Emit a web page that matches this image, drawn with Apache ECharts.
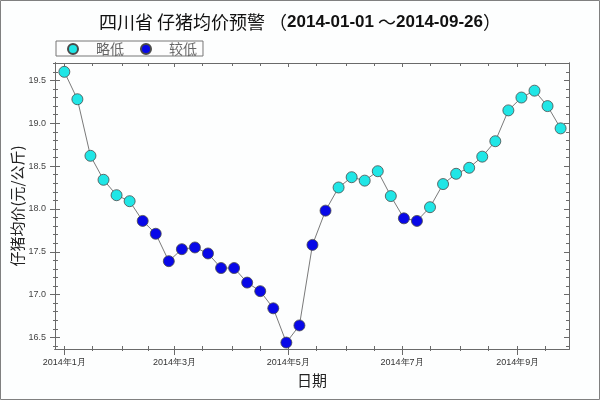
<!DOCTYPE html>
<html>
<head>
<meta charset="utf-8">
<script src="https://cdn.jsdelivr.net/npm/echarts@6/dist/echarts.min.js"></script>
<style>
html, body { margin: 0; padding: 0; background: #fff; }
#chart_box { width: 600px; height: 400px; }
</style>
</head>
<body>
<div id="chart_box"></div>
<script>
// weekly price points, 2014
const dates = [
  '2014-01-01', '2014-01-08', '2014-01-15', '2014-01-22', '2014-01-29',
  '2014-02-05', '2014-02-12', '2014-02-19', '2014-02-26',
  '2014-03-05', '2014-03-12', '2014-03-19', '2014-03-26',
  '2014-04-02', '2014-04-09', '2014-04-16', '2014-04-23', '2014-04-30',
  '2014-05-07', '2014-05-14', '2014-05-21', '2014-05-28',
  '2014-06-04', '2014-06-11', '2014-06-18', '2014-06-25',
  '2014-07-02', '2014-07-09', '2014-07-16', '2014-07-23', '2014-07-30',
  '2014-08-06', '2014-08-13', '2014-08-20', '2014-08-27',
  '2014-09-03', '2014-09-10', '2014-09-17', '2014-09-24'
];
const prices = [
  19.60, 19.28, 18.62, 18.34, 18.16,
  18.09, 17.86, 17.71, 17.39,
  17.53, 17.55, 17.48, 17.31,
  17.31, 17.14, 17.04, 16.84, 16.44,
  16.64, 17.58, 17.98, 18.25,
  18.37, 18.33, 18.44, 18.15,
  17.89, 17.86, 18.02, 18.29, 18.41,
  18.48, 18.61, 18.79, 19.15,
  19.30, 19.38, 19.20, 18.94
];
// warning level of each point
const levels = [
  '略低', '略低', '略低', '略低', '略低',
  '略低', '较低', '较低', '较低',
  '较低', '较低', '较低', '较低',
  '较低', '较低', '较低', '较低', '较低',
  '较低', '较低', '较低', '略低',
  '略低', '略低', '略低', '略低',
  '较低', '较低', '略低', '略低', '略低',
  '略低', '略低', '略低', '略低',
  '略低', '略低', '略低', '略低'
];
const levelNames = ['略低', '较低'];
const levelColors = ['#20e6e6', '#0808e8'];

const xMajorTicks = ['2014-01-01', '2014-03-01', '2014-05-01', '2014-07-01', '2014-09-01'];
const xMinorTicks = [
  '2014-01-16', '2014-02-01', '2014-02-15', '2014-03-16', '2014-04-01', '2014-04-16',
  '2014-05-16', '2014-06-01', '2014-06-16', '2014-07-16', '2014-08-01', '2014-08-16',
  '2014-09-16'
];
const yMajorTicks = [16.5, 17.0, 17.5, 18.0, 18.5, 19.0, 19.5];
const yMinorTicks = [
  16.4, 16.6, 16.7, 16.8, 16.9, 17.1, 17.2, 17.3, 17.4, 17.6, 17.7, 17.8, 17.9,
  18.1, 18.2, 18.3, 18.4, 18.6, 18.7, 18.8, 18.9, 19.1, 19.2, 19.3, 19.4, 19.6, 19.7
];

function ts(s) {
  const p = s.split('-').map(Number);
  return new Date(p[0], p[1] - 1, p[2]).getTime();
}

const xMin = ts('2013-12-27');
const xMax = ts('2014-09-28') + 12 * 3600 * 1000;
const yMin = 16.365;
const yMax = 19.703;
const axisColor = '#6a6a6a';

// the x axis is a plain value axis holding timestamps
function xAxisCfg(position, ticks, len, inside, extra) {
  return Object.assign({
    type: 'value', position: position, min: xMin, max: xMax,
    splitLine: { show: false },
    axisLine: { show: true, onZero: false, lineStyle: { color: axisColor, width: 1 } },
    axisLabel: { show: false },
    axisTick: { show: true, inside: inside, length: len, customValues: ticks.map(ts),
      lineStyle: { color: axisColor } }
  }, extra || {});
}
function yAxisCfg(position, ticks, len, inside, extra) {
  return Object.assign({
    type: 'value', position: position, min: yMin, max: yMax,
    splitLine: { show: false },
    axisLine: { show: true, onZero: false, lineStyle: { color: axisColor, width: 1 } },
    axisLabel: { show: false },
    axisTick: { show: true, inside: inside, length: len, customValues: ticks,
      lineStyle: { color: axisColor } }
  }, extra || {});
}

const lineData = dates.map((d, i) => [ts(d), prices[i]]);
const pointSeries = levelNames.map((name, k) => ({
  name: name,
  type: 'scatter',
  z: 3,
  symbol: 'circle',
  symbolSize: 11,
  itemStyle: { color: levelColors[k], borderColor: '#4a4a4a', borderWidth: 0.8, opacity: 1 },
  data: dates.map((d, i) => levels[i] === name ? [ts(d), prices[i]] : null).filter(v => v)
}));

let myChart = echarts.init(document.getElementById('chart_box'), null, { renderer: 'canvas' });
const option = {
  backgroundColor: '#fdfefe',
  animation: false,
  title: {
    text: '{a|四川省 仔猪均价预警 （}{b|2014-01-01}{a| ～}{b|2014-09-26}{a|）}',
    left: 'center',
    top: 8,
    textStyle: {
      fontWeight: 'normal',
      rich: {
        a: { fontFamily: 'Noto Sans CJK SC', fontSize: 18, fontWeight: 'normal', color: '#111' },
        b: { fontFamily: 'Liberation Sans', fontSize: 17, fontWeight: 'bold', color: '#111' }
      }
    }
  },
  legend: {
    data: levelNames,
    left: 56,
    top: 41,
    orient: 'horizontal',
    backgroundColor: '#fdfdfd',
    borderColor: '#777',
    borderWidth: 1,
    padding: [1, 6, 0, 11],
    itemWidth: 10,
    itemHeight: 10,
    itemGap: 16,
    textStyle: { fontFamily: 'Noto Sans CJK SC', fontSize: 14, color: '#666', lineHeight: 14, padding: [0, 0, 0, 13] }
  },
  grid: { left: 55, right: 31, top: 63, bottom: 51, containLabel: false, outerBoundsMode: 'none' },
  xAxis: [
    xAxisCfg('bottom', xMajorTicks, 6, false, {
      name: '日期', nameLocation: 'middle', nameGap: 24, nameMoveOverlap: false,
      nameTextStyle: { fontFamily: 'Noto Sans CJK SC', fontSize: 15, color: '#222' },
      axisLabel: {
        show: true, customValues: xMajorTicks.map(ts), margin: 9,
        fontFamily: 'Liberation Sans', fontSize: 9, color: '#333',
        formatter: v => { const d = new Date(v); return d.getFullYear() + '年' + (d.getMonth() + 1) + '月'; }
      }
    }),
    xAxisCfg('bottom', xMajorTicks.concat(xMinorTicks), 3, true),
    xAxisCfg('bottom', xMinorTicks, 2, false),
    xAxisCfg('top', xMajorTicks, 4, true),
    xAxisCfg('top', xMinorTicks, 3, true)
  ],
  yAxis: [
    yAxisCfg('left', yMajorTicks, 5, false, {
      name: '仔猪均价(元/公斤)', nameLocation: 'middle', nameGap: 30, nameRotate: 90, nameMoveOverlap: false,
      nameTextStyle: { fontFamily: 'Noto Sans CJK SC', fontSize: 15, color: '#222' },
      axisLabel: {
        show: true, customValues: yMajorTicks, margin: 9,
        fontFamily: 'Liberation Sans', fontSize: 9, color: '#444',
        formatter: v => v.toFixed(1)
      }
    }),
    yAxisCfg('left', yMajorTicks, 5, true),
    yAxisCfg('left', yMinorTicks, 2, false),
    yAxisCfg('left', yMinorTicks, 3, true),
    yAxisCfg('right', yMajorTicks, 5, true),
    yAxisCfg('right', yMinorTicks, 3, true)
  ],
  graphic: [{
    type: 'rect', silent: true, z: 100,
    shape: { x: 0.5, y: 0.5, width: 599, height: 399 },
    style: { fill: null, stroke: '#808080', lineWidth: 1 }
  }],
  series: [{
    name: '均价',
    type: 'line',
    z: 2,
    showSymbol: false,
    symbol: 'none',
    lineStyle: { color: '#7a7a7a', width: 1 },
    data: lineData
  }].concat(pointSeries)
};
myChart.setOption(option);
</script>
</body>
</html>
